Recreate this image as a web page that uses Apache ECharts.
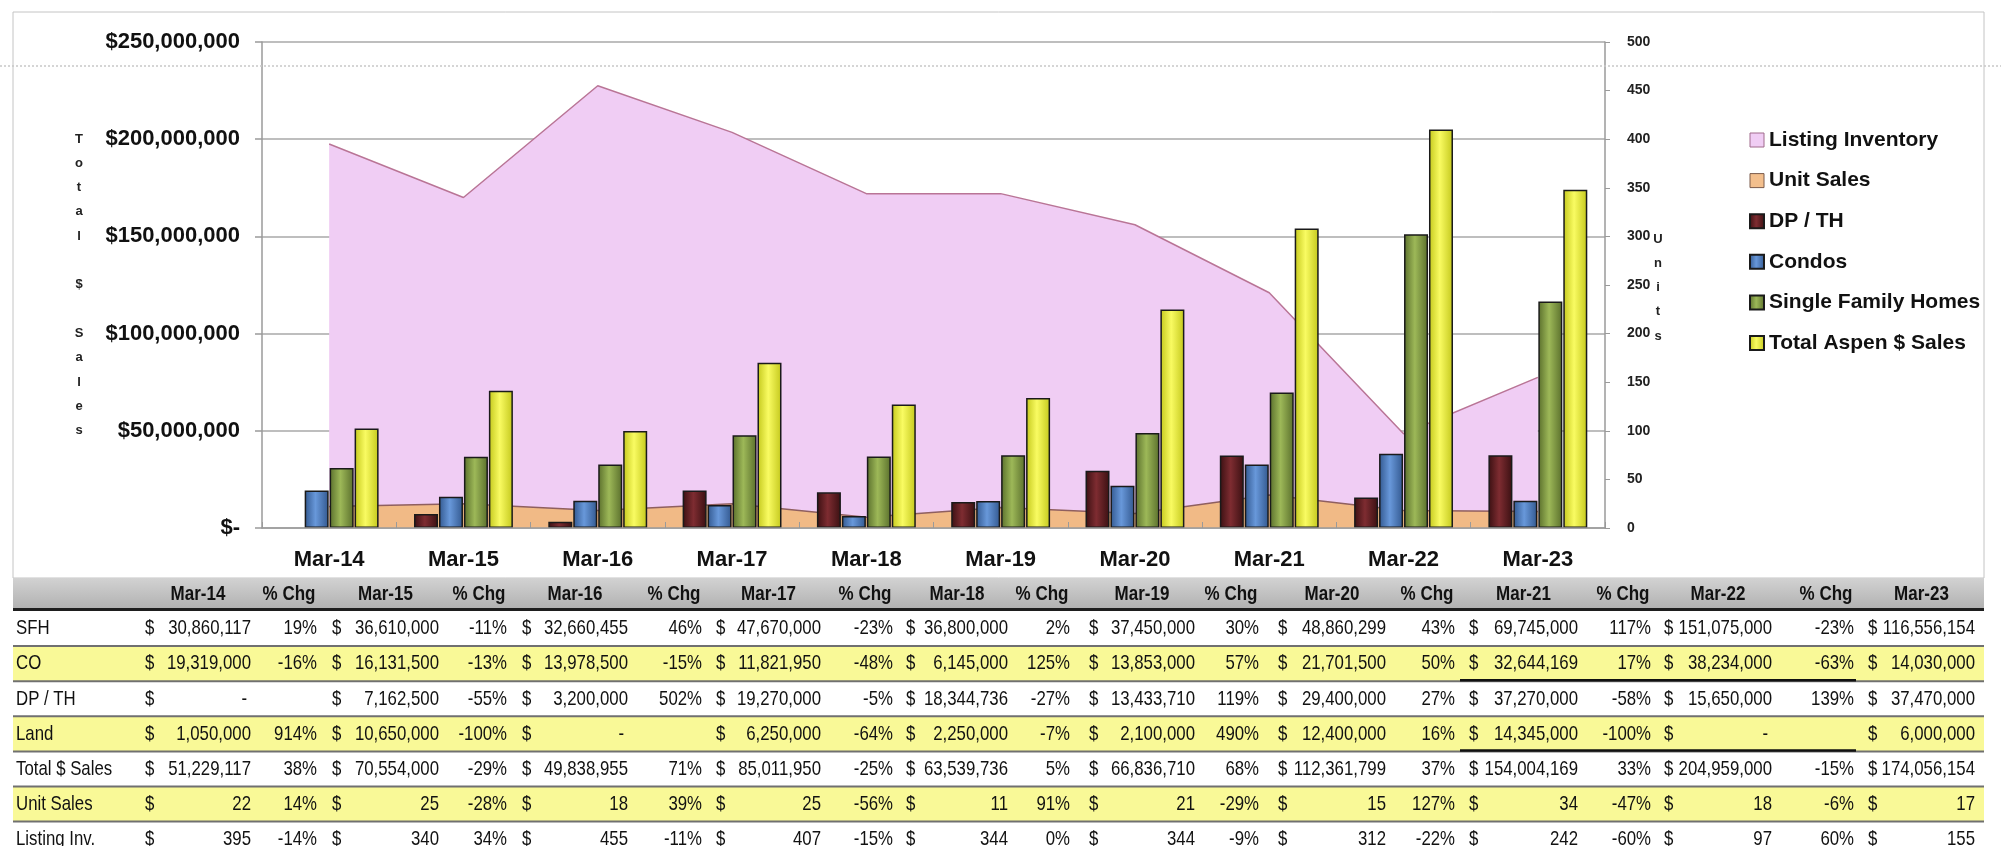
<!DOCTYPE html>
<html>
<head>
<meta charset="utf-8">
<script src="https://cdn.jsdelivr.net/npm/echarts@6/dist/echarts.min.js"></script>
<style>
html,body{margin:0;padding:0;background:#fff;}
#chart{width:2001px;height:846px;}
</style>
</head>
<body>
<div id="chart"></div>
<script>
// ---------------- DATA ----------------
const categories = ['Mar-14','Mar-15','Mar-16','Mar-17','Mar-18','Mar-19','Mar-20','Mar-21','Mar-22','Mar-23'];
const sfhSales     = [30860117, 36610000, 32660455, 47670000, 36800000, 37450000, 48860299, 69745000, 151075000, 116556154];
const condoSales   = [19319000, 16131500, 13978500, 11821950, 6145000, 13853000, 21701500, 32644169, 38234000, 14030000];
const dpthSales    = [0, 7162500, 3200000, 19270000, 18344736, 13433710, 29400000, 37270000, 15650000, 37470000];
const landSales    = [1050000, 10650000, 0, 6250000, 2250000, 2100000, 12400000, 14345000, 0, 6000000];
const totalSales   = [51229117, 70554000, 49838955, 85011950, 63539736, 66836710, 112361799, 154004169, 204959000, 174056154];
const unitSales    = [22, 25, 18, 25, 11, 21, 15, 34, 18, 17];
const listingInv   = [395, 340, 455, 407, 344, 344, 312, 242, 97, 155];
// % change columns as printed in the table (null = blank)
const sfhPct     = [19, -11, 46, -23, 2, 30, 43, 117, -23];
const condoPct   = [-16, -13, -15, -48, 125, 57, 50, 17, -63];
const dpthPct    = [null, -55, 502, -5, -27, 119, 27, -58, 139];
const landPct    = [914, -100, null, -64, -7, 490, 16, -100, null];
const totalPct   = [38, -29, 71, -25, 5, 68, 37, 33, -15];
const unitPct    = [14, -28, 39, -56, 91, -29, 127, -47, -6];
const listingPct = [-14, 34, -11, -15, 0, -9, -22, -60, 60];
const leftTicks  = [0, 50000000, 100000000, 150000000, 200000000, 250000000];
const rightTicks = [0, 50, 100, 150, 200, 250, 300, 350, 400, 450, 500];

// ---------------- LAYOUT ----------------
const FONT = '"Liberation Sans", Arial, sans-serif';
const dollarX  = [145, 332, 522, 716, 906, 1089, 1278, 1469, 1664, 1868];
const valRight = [251, 439, 628, 821, 1008, 1195, 1386, 1578, 1772, 1975];
const pctRight = [317, 507, 702, 893, 1070, 1259, 1455, 1651, 1854];
const tableLeft = 13, tableRight = 1984, headTop = 578, headBottom = 608, rowTop = 611, rowH = 35.1;

const chart = echarts.init(document.getElementById('chart'), null, {renderer: 'canvas'});

function grad(edge, mid) {
  return new echarts.graphic.LinearGradient(0, 0, 1, 0, [
    {offset: 0, color: edge}, {offset: 0.45, color: mid}, {offset: 1, color: edge}
  ]);
}
const barStyles = {
  dp:    {color: grad('#3a1012', '#7e2c31'), borderColor: '#1a1a1a', borderWidth: 1.5},
  condo: {color: grad('#32588f', '#6898da'), borderColor: '#1a1a1a', borderWidth: 1.5},
  sfh:   {color: grad('#5a6f2c', '#9db858'), borderColor: '#1a1a1a', borderWidth: 1.5},
  tot:   {color: grad('#c4c81c', '#f9fb62'), borderColor: '#1a1a1a', borderWidth: 1.5}
};

function fmtMoney(v) { return v.toLocaleString('en-US'); }

// ---------------- TABLE (graphic) ----------------
const graphics = [];
// chart frame
graphics.push({type: 'rect', z: 0, silent: true, shape: {x: 13, y: 12, width: 1971, height: 566},
  style: {fill: null, stroke: '#c4c4c4', lineWidth: 1}});
// sheet artifact line
graphics.push({type: 'line', z: 50, silent: true, shape: {x1: 0, y1: 66, x2: 2001, y2: 66},
  style: {stroke: '#c8c8c8', lineWidth: 1.5, lineDash: [2, 2]}});

// axis titles (stacked letters)
const leftTitle = 'Total $ Sales';
for (let i = 0; i < leftTitle.length; i++) {
  graphics.push({type: 'text', z: 10, x: 79, y: 139 + i * 24.3,
    style: {text: leftTitle[i], fill: '#222', font: 'bold 13px ' + FONT, align: 'center', verticalAlign: 'middle'}});
}
const rightTitle = 'Units';
for (let i = 0; i < rightTitle.length; i++) {
  graphics.push({type: 'text', z: 10, x: 1658, y: 239 + i * 24.3,
    style: {text: rightTitle[i], fill: '#222', font: 'bold 13px ' + FONT, align: 'center', verticalAlign: 'middle'}});
}

const rows = [
  {label: 'SFH',           vals: sfhSales,   pct: sfhPct,     yellow: false},
  {label: 'CO',            vals: condoSales, pct: condoPct,   yellow: true,  underline: true},
  {label: 'DP / TH',       vals: dpthSales,  pct: dpthPct,    yellow: false},
  {label: 'Land',          vals: landSales,  pct: landPct,    yellow: true,  underline: true},
  {label: 'Total $ Sales', vals: totalSales, pct: totalPct,   yellow: false},
  {label: 'Unit Sales',    vals: unitSales,  pct: unitPct,    yellow: true},
  {label: 'Listing Inv.',  vals: listingInv, pct: listingPct, yellow: false}
];

// header background
graphics.push({type: 'rect', z: 1, silent: true,
  shape: {x: tableLeft, y: headTop, width: tableRight - tableLeft, height: headBottom - headTop},
  style: {fill: new echarts.graphic.LinearGradient(0, 0, 0, 1, [{offset: 0, color: '#d2d2d2'}, {offset: 1, color: '#b2b2b2'}])}});
graphics.push({type: 'line', z: 3, silent: true, shape: {x1: tableLeft, y1: headBottom + 1.5, x2: tableRight, y2: headBottom + 1.5},
  style: {stroke: '#1e1e1e', lineWidth: 3}});

function tText(x, y, text, align, opts) {
  opts = opts || {};
  return {type: 'text', z: 5, silent: true, x: x, y: y, scaleX: opts.scaleX || 0.8,
    style: {text: text, fill: '#111', font: (opts.bold ? 'bold ' : '') + (opts.size || 21) + 'px ' + FONT,
      align: align, verticalAlign: 'middle'}};
}
// header texts
const headY = 594;
categories.forEach((c, i) => {
  graphics.push(tText((dollarX[i] + valRight[i]) / 2, headY, c, 'center', {bold: true, size: 20, scaleX: 0.85}));
  if (i < pctRight.length) graphics.push(tText(pctRight[i] - 28, headY, '% Chg', 'center', {bold: true, size: 20, scaleX: 0.85}));
});

rows.forEach((r, ri) => {
  const top = rowTop + ri * rowH;
  const cy = top + rowH / 2;
  if (r.yellow) {
    graphics.push({type: 'rect', z: 1, silent: true, shape: {x: tableLeft, y: top, width: tableRight - tableLeft, height: rowH},
      style: {fill: '#f9f997'}});
  }
  if (ri > 0) {
    graphics.push({type: 'line', z: 3, silent: true, shape: {x1: tableLeft, y1: top, x2: tableRight, y2: top},
      style: {stroke: '#707070', lineWidth: 2}});
  }
  if (r.underline) {
    graphics.push({type: 'line', z: 4, silent: true, shape: {x1: 1460, y1: top + rowH - 1, x2: 1856, y2: top + rowH - 1},
      style: {stroke: '#111', lineWidth: 2.5}});
  }
  graphics.push(tText(16, cy, r.label, 'left'));
  r.vals.forEach((v, i) => {
    graphics.push(tText(dollarX[i], cy, '$', 'left'));
    graphics.push(tText(v === 0 ? valRight[i] - 4 : valRight[i], cy, v === 0 ? '-' : fmtMoney(v), 'right'));
  });
  r.pct.forEach((p, i) => {
    if (p !== null) graphics.push(tText(pctRight[i], cy, p + '%', 'right'));
  });
});

// ---------------- OPTION ----------------
const option = {
  animation: false,
  backgroundColor: '#ffffff',
  textStyle: {fontFamily: FONT},
  grid: {left: 262, right: 396, top: 42, bottom: 318, containLabel: false},
  legend: {
    orient: 'vertical', left: 1744, top: 124, icon: 'rect',
    itemWidth: 14, itemHeight: 14, itemGap: 18.6,
    textStyle: {fontSize: 21, fontWeight: 'bold', color: '#111', lineHeight: 22, fontFamily: FONT},
    data: [
      {name: 'Listing Inventory', itemStyle: {color: '#f0cdf4', borderColor: '#a06a8c', borderWidth: 1}},
      {name: 'Unit Sales', itemStyle: {color: '#f3bf8d', borderColor: '#7a5a4a', borderWidth: 1}},
      {name: 'DP / TH'},
      {name: 'Condos'},
      {name: 'Single Family Homes'},
      {name: 'Total Aspen $ Sales'}
    ]
  },
  xAxis: {
    type: 'category', data: categories, boundaryGap: true, z: 3,
    axisLine: {lineStyle: {color: '#9a9a9a', width: 1.5}},
    axisTick: {show: true, inside: true, length: 6, lineStyle: {color: '#9a9a9a'}},
    axisLabel: {fontSize: 22, fontWeight: 'bold', color: '#111', margin: 21, fontFamily: FONT}
  },
  yAxis: [
    {
      type: 'value', min: 0, max: 250000000, interval: 50000000, position: 'left',
      axisLine: {show: true, lineStyle: {color: '#9a9a9a', width: 1.5}},
      axisTick: {show: true, length: 7, lineStyle: {color: '#9a9a9a', width: 1.5}},
      splitLine: {show: true, lineStyle: {color: '#a8a8a8', width: 1.5}},
      axisLabel: {
        fontSize: 22, fontWeight: 'bold', color: '#111', margin: 22, fontFamily: FONT,
        formatter: v => leftTicks.indexOf(v) < 0 ? '' : (v === 0 ? '$-' : '$' + fmtMoney(v))
      }
    },
    {
      type: 'value', min: 0, max: 500, interval: 50, position: 'right',
      axisLine: {show: true, lineStyle: {color: '#9a9a9a', width: 1.5}},
      axisTick: {show: true, length: 5, lineStyle: {color: '#9a9a9a'}},
      splitLine: {show: false},
      axisLabel: {fontSize: 14, fontWeight: 'bold', color: '#222', margin: 22, fontFamily: FONT,
        formatter: v => rightTicks.indexOf(v) < 0 ? '' : String(v)}
    }
  ],
  series: [
    {
      name: 'Listing Inventory', type: 'line', yAxisIndex: 1, data: listingInv,
      symbol: 'none', z: 1,
      itemStyle: {color: '#f0cdf4'},
      lineStyle: {color: '#b97596', width: 1.5},
      areaStyle: {color: '#f0cdf4', opacity: 1}
    },
    {
      name: 'Unit Sales', type: 'line', yAxisIndex: 1, data: unitSales,
      symbol: 'none', z: 1,
      itemStyle: {color: '#f1ba86'},
      lineStyle: {color: '#8f5f5f', width: 1.5},
      areaStyle: {color: '#f1ba86', opacity: 1}
    },
    {name: 'DP / TH', type: 'bar', data: dpthSales.map(v => v === 0 ? null : v), barWidth: 24, barGap: '4%', itemStyle: barStyles.dp, z: 2},
    {name: 'Condos', type: 'bar', data: condoSales, barWidth: 24, barGap: '4%', itemStyle: barStyles.condo, z: 2},
    {name: 'Single Family Homes', type: 'bar', data: sfhSales, barWidth: 24, barGap: '4%', itemStyle: barStyles.sfh, z: 2},
    {name: 'Total Aspen $ Sales', type: 'bar', data: totalSales, barWidth: 24, barGap: '4%', itemStyle: barStyles.tot, z: 2}
  ],
  graphic: graphics
};
chart.setOption(option);
</script>
</body>
</html>
